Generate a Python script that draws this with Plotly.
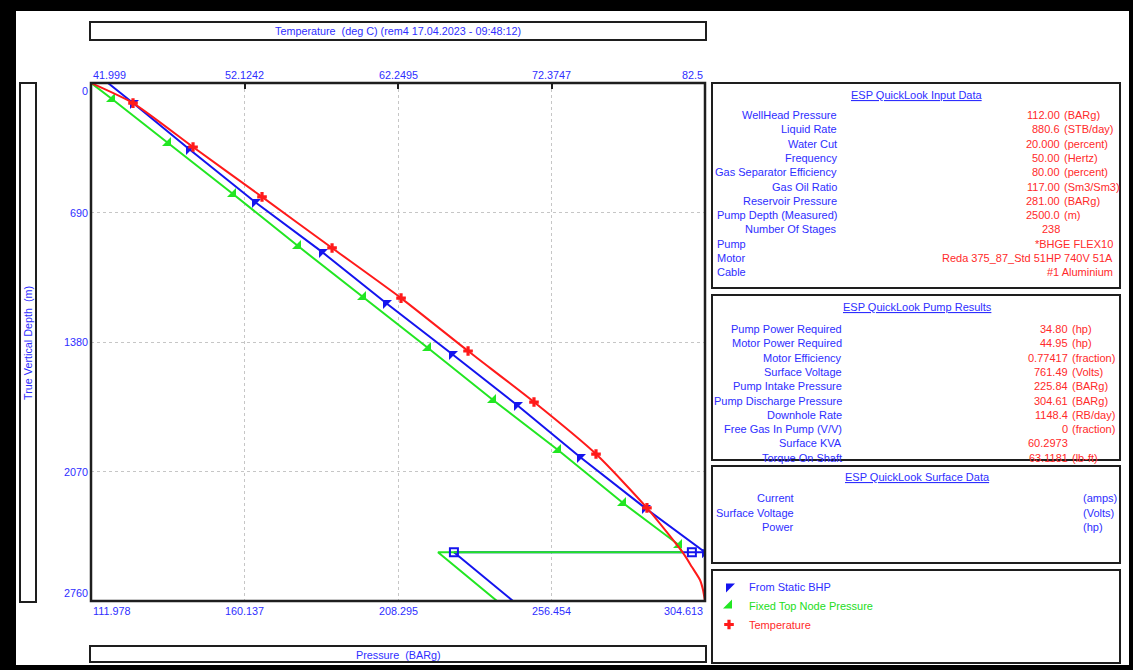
import plotly.graph_objects as go

W, H = 1133, 670

BLUE_TXT = "#2e2eff"
RED_TXT = "#ff2a2a"
FONT = "Arial, Liberation Sans, sans-serif"
FS = 10.8   # axis/tick text size
PS = 11     # side-panel text size

# ---------------- chart data ----------------
# Temperature profile (deg C, top axis) against true vertical depth (m)
temp_depth = [0, 107, 341, 607, 879, 1146, 1428, 1700, 1977, 2264, 2504, 2579, 2648, 2701, 2760]
temp_degc = [41.999, 44.77, 48.73, 53.28, 57.90, 62.45, 66.87, 71.22, 75.31, 78.67, 81.05, 81.64, 82.17, 82.37, 82.5]
temp_marked = [1, 2, 3, 4, 5, 6, 7, 8, 9]

# "From Static BHP" pressure traverse (BARg, bottom axis)
bhp_depth = [0, 107, 352, 634, 900, 1172, 1444, 1716, 1993, 2264, 2500, 2500, 2760]
bhp_press = [117.31, 125.16, 142.73, 163.43, 184.45, 204.53, 225.24, 245.63, 265.40, 285.79, 304.61, 225.84, 244.38]
bhp_marked = [1, 2, 3, 4, 5, 6, 7, 8, 9, 10]

# "Fixed Top Node Pressure" traverse (BARg, bottom axis)
ftp_depth = [0, 85, 320, 591, 869, 1140, 1412, 1689, 1955, 2238, 2462, 2500, 2500, 2760]
ftp_press = [112.00, 118.57, 136.14, 156.53, 176.92, 197.31, 217.71, 238.10, 258.49, 278.89, 296.46, 297.40, 220.85, 239.36]
ftp_marked = [1, 2, 3, 4, 5, 6, 7, 8, 9, 10]

# Pump node markers (BARg at pump depth)
pump_node_press = [225.84, 300.5]
pump_node_depth = [2500, 2500]

# Axis ticks
temp_ticks = [41.999, 52.1242, 62.2495, 72.3747, 82.5]
temp_tick_text = ["41.999", "52.1242", "62.2495", "72.3747", "82.5"]
press_ticks = [111.978, 160.137, 208.295, 256.454, 304.613]
press_tick_text = ["111.978", "160.137", "208.295", "256.454", "304.613"]
depth_ticks = [0, 690, 1380, 2070, 2760]
depth_tick_text = ["0", "690", "1380", "2070", "2760"]

# Side panels
input_labels = ["WellHead Pressure", "Liquid Rate", "Water Cut", "Frequency",
                "Gas Separator Efficiency", "Gas Oil Ratio", "Reservoir Pressure",
                "Pump Depth (Measured)", "Number Of Stages"]
input_values = ["112.00", "880.6", "20.000", "50.00", "80.00", "117.00", "281.00", "2500.0", "238"]
input_units = ["(BARg)", "(STB/day)", "(percent)", "(Hertz)", "(percent)", "(Sm3/Sm3)", "(BARg)", "(m)", ""]
equip_labels = ["Pump", "Motor", "Cable"]
equip_values = ["*BHGE FLEX10", "Reda 375_87_Std 51HP 740V 51A", "#1 Aluminium"]

pump_labels = ["Pump Power Required", "Motor Power Required", "Motor Efficiency", "Surface Voltage",
               "Pump Intake Pressure", "Pump Discharge Pressure", "Downhole Rate",
               "Free Gas In Pump (V/V)", "Surface KVA", "Torque On Shaft"]
pump_values = ["34.80", "44.95", "0.77417", "761.49", "225.84", "304.61", "1148.4", "0", "60.2973", "63.1181"]
pump_units = ["(hp)", "(hp)", "(fraction)", "(Volts)", "(BARg)", "(BARg)", "(RB/day)", "(fraction)", "", "(lb-ft)"]

surface_labels = ["Current", "Surface Voltage", "Power"]
surface_units = ["(amps)", "(Volts)", "(hp)"]


# ---------------- helpers (pixel -> paper) ----------------
def fx(px):
    return px / W


def fy(py):
    return 1 - py / H


def pick(seq, idx):
    return [seq[i] for i in idx]


fig = go.Figure()

# Lines
fig.add_trace(go.Scatter(x=bhp_press, y=bhp_depth, mode="lines", xaxis="x", yaxis="y",
                         line=dict(color="#1414ee", width=2), showlegend=False, hoverinfo="skip"))
fig.add_trace(go.Scatter(x=temp_degc, y=temp_depth, mode="lines", xaxis="x2", yaxis="y",
                         line=dict(color="#ff1a1a", width=2, shape="spline", smoothing=0.6),
                         showlegend=False, hoverinfo="skip"))
fig.add_trace(go.Scatter(x=ftp_press, y=ftp_depth, mode="lines", xaxis="x", yaxis="y",
                         line=dict(color="#22e622", width=2), showlegend=False, hoverinfo="skip"))

# Markers (also used as legend entries)
fig.add_trace(go.Scatter(x=pick(bhp_press, bhp_marked), y=pick(bhp_depth, bhp_marked),
                         mode="markers", xaxis="x", yaxis="y",
                         marker=dict(symbol="triangle-nw", size=10, color="#1414ee"),
                         name=f"<span style='color:{BLUE_TXT}'>From Static BHP</span>"))
fig.add_trace(go.Scatter(x=pick(ftp_press, ftp_marked), y=pick(ftp_depth, ftp_marked),
                         mode="markers", xaxis="x", yaxis="y",
                         marker=dict(symbol="triangle-se", size=10, color="#22e622"),
                         name="<span style='color:#22dd22'>Fixed Top Node Pressure</span>"))
fig.add_trace(go.Scatter(x=pick(temp_degc, temp_marked), y=pick(temp_depth, temp_marked),
                         mode="markers", xaxis="x2", yaxis="y",
                         marker=dict(symbol="cross", size=8, color="#ff1a1a"),
                         name=f"<span style='color:{RED_TXT}'>Temperature</span>"))
fig.add_trace(go.Scatter(x=pump_node_press, y=pump_node_depth, mode="markers", xaxis="x", yaxis="y",
                         marker=dict(symbol="square-open", size=8, color="#1414ee", line=dict(width=2)),
                         showlegend=False, hoverinfo="skip"))

# ---------------- shapes ----------------
shapes = []


def box(x0, y0, x1, y1, width=2, color="#1e1e1e", fill=None):
    d = dict(type="rect", xref="paper", yref="paper",
             x0=fx(x0), x1=fx(x1), y0=fy(y1), y1=fy(y0),
             line=dict(color=color, width=width), layer="above")
    if fill:
        d["fillcolor"] = fill
        d["line"] = dict(width=0)
    shapes.append(d)


# outer dark frame
box(0, 0, 16, H, fill="#000000")
box(0, 0, W, 11, fill="#000000")
box(0, 665, W, H, fill="#000000")
box(1129, 0, W, H, fill="#000000")

# axis title boxes
box(90, 22, 706, 40)
box(20, 83, 36, 602)
box(90, 646, 706, 662)
# plot frame
box(91, 83, 705, 601, width=2.5)
# side panels
box(712, 83, 1120, 288)
box(712, 295, 1120, 460)
box(712, 466, 1120, 563)
box(712, 570, 1120, 663)

# ---------------- annotations ----------------
ann = []


def text(px, py, s, color=BLUE_TXT, anchor="left", size=PS, angle=0):
    ann.append(dict(x=fx(px), y=fy(py), xref="paper", yref="paper", text=s, showarrow=False,
                    xanchor=anchor, yanchor="middle", textangle=angle,
                    font=dict(family=FONT, size=size, color=color)))


text(398, 31, "Temperature  (deg C) (rem4 17.04.2023 - 09:48:12)", anchor="center", size=FS)
text(398, 655, "Pressure  (BARg)", anchor="center", size=FS)
text(28, 343, "True Vertical Depth  (m)", anchor="center", angle=-90, size=FS)

# tick labels
n = len(temp_ticks)
for i, (v, s) in enumerate(zip(temp_ticks, temp_tick_text)):
    a = "left" if i == 0 else ("right" if i == n - 1 else "center")
    ann.append(dict(x=v, y=fy(75), xref="x2", yref="paper", text=s, showarrow=False, xanchor=a,
                    yanchor="middle", font=dict(family=FONT, size=FS, color=BLUE_TXT)))
n = len(press_ticks)
for i, (v, s) in enumerate(zip(press_ticks, press_tick_text)):
    a = "left" if i == 0 else ("right" if i == n - 1 else "center")
    ann.append(dict(x=v, y=fy(611), xref="x", yref="paper", text=s, showarrow=False, xanchor=a,
                    yanchor="middle", font=dict(family=FONT, size=FS, color=BLUE_TXT)))
n = len(depth_ticks)
for i, (v, s) in enumerate(zip(depth_ticks, depth_tick_text)):
    a = "top" if i == 0 else ("bottom" if i == n - 1 else "middle")
    ann.append(dict(x=fx(90), y=v, xref="paper", yref="y", text=s, showarrow=False, xanchor="right",
                    yanchor=a, font=dict(family=FONT, size=FS, color=BLUE_TXT)))

# panel 1: input data
text(917, 95, "<u>ESP QuickLook Input Data</u>", anchor="center")
row = 14.3
for i, (lab, val, unit) in enumerate(zip(input_labels, input_values, input_units)):
    y = 115 + i * row
    text(839, y, lab, anchor="right")
    text(1062, y, val, color=RED_TXT, anchor="right")
    if unit:
        text(1062, y, unit, color=RED_TXT, anchor="left")
for j, (lab, val) in enumerate(zip(equip_labels, equip_values)):
    y = 115 + (len(input_labels) + j) * row
    text(715, y, lab, anchor="left")
    text(1115, y, val, color=RED_TXT, anchor="right")

# panel 2: pump results
text(917, 307, "<u>ESP QuickLook Pump Results</u>", anchor="center")
for i, (lab, val, unit) in enumerate(zip(pump_labels, pump_values, pump_units)):
    y = 329 + i * row
    text(844, y, lab, anchor="right")
    text(1070, y, val, color=RED_TXT, anchor="right")
    if unit:
        text(1070, y, unit, color=RED_TXT, anchor="left")

# panel 3: surface data
text(917, 477, "<u>ESP QuickLook Surface Data</u>", anchor="center")
for i, (lab, unit) in enumerate(zip(surface_labels, surface_units)):
    y = 498 + i * 14.5
    text(796, y, lab, anchor="right")
    text(1081, y, unit, anchor="left")

axis_common = dict(showline=False, zeroline=False, showticklabels=False)

fig.update_layout(
    width=W, height=H,
    margin=dict(l=0, r=0, t=0, b=0),
    paper_bgcolor="white", plot_bgcolor="white",
    font=dict(family=FONT, size=FS, color=BLUE_TXT),
    xaxis=dict(domain=[fx(91), fx(705)], range=[111.978, 304.613], anchor="y",
               tickvals=press_ticks, ticks="", showgrid=True, gridcolor="#c6c6c6",
               griddash="dot", gridwidth=1, **axis_common),
    xaxis2=dict(overlaying="x", side="top", anchor="y", range=[41.999, 82.5],
                tickvals=temp_ticks, ticks="inside", ticklen=6, tickwidth=2, tickcolor="#1e1e1e",
                showgrid=False, **axis_common),
    yaxis=dict(domain=[fy(601), fy(83)], range=[2760, 0], anchor="x",
               tickvals=depth_ticks, ticks="", showgrid=True, gridcolor="#c6c6c6",
               griddash="dot", gridwidth=1, **axis_common),
    legend=dict(x=fx(709), y=fy(572), xanchor="left", yanchor="top",
                bgcolor="rgba(0,0,0,0)", font=dict(family=FONT, size=PS)),
    shapes=shapes,
    annotations=ann,
    showlegend=True,
)

fig.write_html("out.html")
